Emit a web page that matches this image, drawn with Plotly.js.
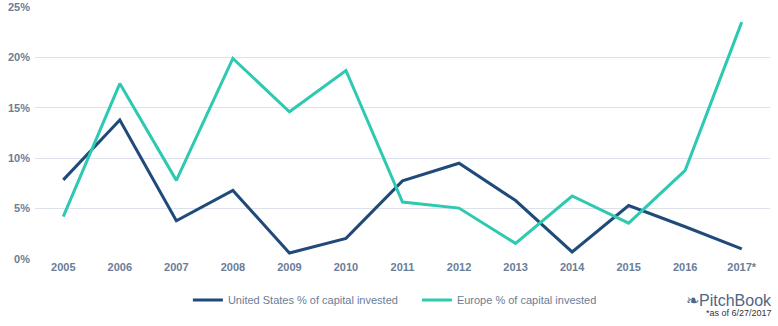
<!DOCTYPE html>
<html>
<head>
<meta charset="utf-8">
<script src="https://cdn.plot.ly/plotly-3.0.1.min.js"></script>
<style>html,body{margin:0;padding:0;background:#fff;}#chart{width:778px;height:326px;}</style>
</head>
<body>
<div id="chart"></div>
<script>
var years = ["2005","2006","2007","2008","2009","2010","2011","2012","2013","2014","2015","2016","2017*"];
var usShare = [7.85, 13.8, 3.8, 6.8, 0.6, 2.05, 7.75, 9.5, 5.8, 0.7, 5.3, 3.2, 1.0];
var europeShare = [4.2, 17.4, 7.8, 19.9, 14.6, 18.7, 5.65, 5.05, 1.55, 6.25, 3.55, 8.8, 23.5];
var yTicks = [0, 5, 10, 15, 20, 25];
var yTickLabels = ["0%", "5%", "10%", "15%", "20%", "25%"];

var labelColor = "#6b7d97";
var traces = [
  {x: years, y: usShare, type: "scatter", mode: "lines", name: "United States % of capital invested",
   line: {color: "#1f4a7a", width: 3}},
  {x: years, y: europeShare, type: "scatter", mode: "lines", name: "Europe % of capital invested",
   line: {color: "#2dc9b0", width: 3}}
];
var layout = {
  width: 778, height: 326,
  margin: {l: 35, r: 8, t: 7, b: 67},
  paper_bgcolor: "#fff", plot_bgcolor: "#fff",
  font: {family: "Liberation Sans, Arial, sans-serif", color: labelColor, size: 11},
  showlegend: true,
  legend: {orientation: "h", x: 0.208, xanchor: "left", y: -0.163, yanchor: "middle",
           font: {size: 11, color: labelColor}, itemwidth: 30, tracegroupgap: 0,
           entrywidth: 184},
  xaxis: {type: "category", range: [-0.5, 12.5], showgrid: false, zeroline: false,
          showline: false, ticks: "", tickfont: {size: 11, color: labelColor, weight: "bold"},
          fixedrange: true},
  yaxis: {range: [0, 25], tickvals: yTicks, ticktext: yTickLabels, showgrid: true,
          gridcolor: "#dde2ea", gridwidth: 1, zeroline: false, showline: false, ticks: "",
          ticklabelstandoff: 4,
          tickfont: {size: 11, color: labelColor, weight: "bold"}, fixedrange: true},
  annotations: [
    {xref: "paper", yref: "paper", x: 1.005, y: -0.163, xanchor: "right", yanchor: "middle",
     text: "&#x2767;PitchBook", showarrow: false, font: {size: 16, color: "#4f6684"}},
    {xref: "paper", yref: "paper", x: 1.005, y: -0.215, xanchor: "right", yanchor: "middle",
     text: "*as of 6/27/2017", showarrow: false, font: {size: 9, color: "#333"}}
  ]
};
Plotly.newPlot("chart", traces, layout, {displayModeBar: false, staticPlot: true});
</script>
</body>
</html>
